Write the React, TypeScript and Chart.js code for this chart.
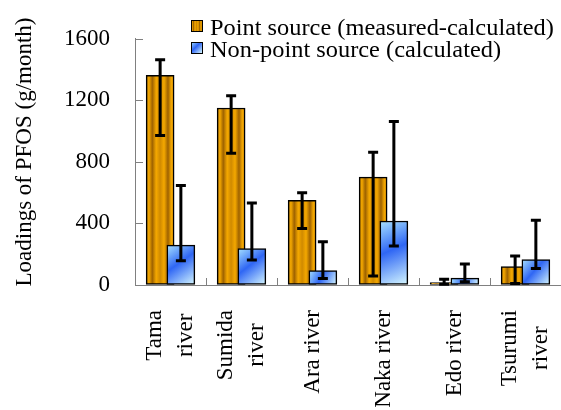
import { useEffect, useRef } from "react";
import { Chart, registerables } from "chart.js";

Chart.register(...registerables);

const categories: string[][] = [
  ["Tama", "river"],
  ["Sumida", "river"],
  ["Ara river"],
  ["Naka river"],
  ["Edo river"],
  ["Tsurumi", "river"],
];
const pointSource = [1362, 1150, 550, 701, 15, 119];
const pointLow = [972, 857, 367, 58, 5, 10];
const pointHigh = [1464, 1230, 600, 863, 38, 188];
const nonPointSource = [259, 237, 93, 416, 45, 166];
const nonPointLow = [157, 162, 43, 254, 21, 108];
const nonPointHigh = [647, 533, 281, 1062, 136, 421];
const yTicks = [0, 400, 800, 1200, 1600];
const seriesNames = ["Point source (measured-calculated)", "Non-point source (calculated)"];
const yTitle = "Loadings of PFOS (g/month)";

const FONT = "'Liberation Serif', 'Times New Roman', serif";
const FONT_SIZE = 23;
const BAR_SHIFT = 0.146; // fraction of a category
const AXIS_GRAY = "#808080";

function orangeFill(ctx: CanvasRenderingContext2D, left: number, right: number) {
  const g = ctx.createLinearGradient(left, 0, right, 0);
  const light = "#F4A800";
  const dark = "#9E6200";
  g.addColorStop(0, "#C98400");
  g.addColorStop(0.1, light);
  g.addColorStop(0.22, dark);
  g.addColorStop(0.36, light);
  g.addColorStop(0.5, "#D08A00");
  g.addColorStop(0.64, light);
  g.addColorStop(0.78, dark);
  g.addColorStop(0.9, light);
  g.addColorStop(1, "#C98400");
  return g;
}

function blueFill(ctx: CanvasRenderingContext2D, left: number, top: number, right: number, bottom: number) {
  const g = ctx.createLinearGradient(left, top, right, bottom);
  g.addColorStop(0, "#A8E2FF");
  g.addColorStop(0.45, "#2F66F4");
  g.addColorStop(1, "#D6F8FF");
  return g;
}

const errorSets = [
  { low: pointLow, high: pointHigh },
  { low: nonPointLow, high: nonPointHigh },
];

const fillPlugin = {
  id: "barFills",
  beforeDatasetsDraw(chart: any) {
    const ctx = chart.ctx as CanvasRenderingContext2D;
    chart.data.datasets.forEach((_: any, d: number) => {
      const meta = chart.getDatasetMeta(d);
      meta.data.forEach((el: any) => {
        const left = el.x - el.width / 2;
        const right = el.x + el.width / 2;
        const top = Math.min(el.y, el.base);
        const bottom = Math.max(el.y, el.base);
        const bg = d === 0 ? orangeFill(ctx, left, right) : blueFill(ctx, left, top, right, bottom);
        el.options = { ...el.options, backgroundColor: bg };
      });
    });
  },
};

const decorPlugin = {
  id: "decor",
  afterDatasetsDraw(chart: any) {
    const ctx = chart.ctx as CanvasRenderingContext2D;
    const yScale = chart.scales.y;
    ctx.save();
    ctx.strokeStyle = "#000";
    ctx.lineWidth = 3;
    errorSets.forEach((set, d) => {
      const meta = chart.getDatasetMeta(d);
      meta.data.forEach((el: any, i: number) => {
        const x = el.x;
        const yh = yScale.getPixelForValue(set.high[i]);
        const yl = yScale.getPixelForValue(set.low[i]);
        ctx.beginPath();
        ctx.moveTo(x, yh);
        ctx.lineTo(x, yl);
        ctx.moveTo(x - 5, yh);
        ctx.lineTo(x + 5, yh);
        ctx.moveTo(x - 5, yl);
        ctx.lineTo(x + 5, yl);
        ctx.stroke();
      });
    });
    ctx.restore();
  },
  afterDraw(chart: any) {
    const ctx = chart.ctx as CanvasRenderingContext2D;
    const xScale = chart.scales.x;
    const yScale = chart.scales.y;
    const area = chart.chartArea;
    const font = `${FONT_SIZE}px ${FONT}`;
    ctx.save();
    ctx.strokeStyle = AXIS_GRAY;
    ctx.lineWidth = 1;
    ctx.beginPath();
    for (let i = 1; i < categories.length; i++) {
      const x = Math.round(xScale.getPixelForValue(i)) + 0.5;
      ctx.moveTo(x, area.bottom);
      ctx.lineTo(x, area.bottom - 7);
    }
    yTicks.forEach((v) => {
      if (v === 0) return;
      const y = Math.round(yScale.getPixelForValue(v)) + 0.5;
      ctx.moveTo(area.left, y);
      ctx.lineTo(area.left + 8, y);
    });
    ctx.stroke();

    ctx.fillStyle = "#000";
    ctx.font = font;
    ctx.textAlign = "center";
    ctx.textBaseline = "middle";
    categories.forEach((lines, i) => {
      const cx = xScale.getPixelForValue(i + 0.5);
      const maxW = Math.max(...lines.map((l) => ctx.measureText(l).width));
      const cy = area.bottom + 25 + maxW / 2;
      ctx.save();
      ctx.translate(cx, cy);
      ctx.rotate(-Math.PI / 2);
      lines.forEach((line, j) => {
        const v = (j - (lines.length - 1) / 2) * 31;
        ctx.fillText(line, 0, v);
      });
      ctx.restore();
    });

    ctx.save();
    ctx.font = font;
    ctx.translate(25, 152);
    ctx.rotate(-Math.PI / 2);
    ctx.fillText(yTitle, 0, 0);
    ctx.restore();

    const boxX = 191;
    const boxS = 11;
    const rows = [20, 42];
    rows.forEach((by, k) => {
      ctx.fillStyle = k === 0 ? orangeFill(ctx, boxX, boxX + boxS) : blueFill(ctx, boxX, by, boxX + boxS, by + boxS);
      ctx.fillRect(boxX, by, boxS, boxS);
      ctx.strokeStyle = "#000";
      ctx.lineWidth = 1;
      ctx.strokeRect(boxX + 0.5, by + 0.5, boxS, boxS);
      ctx.save();
      ctx.font = font;
      ctx.fillStyle = "#000";
      ctx.textAlign = "left";
      ctx.textBaseline = "alphabetic";
      ctx.translate(210, by + 15);
      ctx.scale(1.06, 1);
      ctx.fillText(seriesNames[k], 0, 0);
      ctx.restore();
    });
    ctx.restore();
  },
};

export default function App() {
  const ref = useRef<HTMLCanvasElement>(null);
  useEffect(() => {
    const canvas = ref.current;
    if (!canvas) return;
    Chart.defaults.font.family = FONT;
    const chart = new Chart(canvas, {
      type: "bar",
      data: {
        datasets: [
          {
            label: seriesNames[0],
            data: pointSource.map((v, i) => ({ x: i + 0.5 - BAR_SHIFT, y: v })),
            backgroundColor: "#F2A600",
            borderColor: "#000",
            borderWidth: 1.5,
            borderSkipped: false,
            barThickness: 28,
            grouped: false,
            order: 1,
          },
          {
            label: seriesNames[1],
            data: nonPointSource.map((v, i) => ({ x: i + 0.5 + BAR_SHIFT, y: v })),
            backgroundColor: "#2F66F4",
            borderColor: "#000",
            borderWidth: 1.5,
            borderSkipped: false,
            barThickness: 28,
            grouped: false,
            order: 0,
          },
        ],
      },
      options: {
        responsive: false,
        animation: false,
        devicePixelRatio: 1,
        events: [],
        layout: { padding: { top: 38, left: 0, right: 0, bottom: 0 } },
        plugins: {
          legend: { display: false },
          tooltip: { enabled: false },
          title: { display: false },
        },
        scales: {
          x: {
            type: "linear",
            min: 0,
            max: categories.length,
            offset: false,
            ticks: { display: false },
            grid: { display: true, drawOnChartArea: false, drawTicks: false },
            border: { display: true, color: AXIS_GRAY, width: 1 },
            afterFit: (s: any) => {
              s.height = 125;
            },
          },
          y: {
            type: "linear",
            min: 0,
            max: 1600,
            afterBuildTicks: (s: any) => {
              s.ticks = yTicks.map((v) => ({ value: v }));
            },
            ticks: {
              color: "#000",
              padding: 25,
              font: { family: FONT, size: FONT_SIZE },
              callback: (v: any) => String(v),
            },
            grid: { display: true, drawOnChartArea: false, drawTicks: false },
            border: { display: true, color: AXIS_GRAY, width: 1 },
            afterFit: (s: any) => {
              s.width = 135;
            },
          },
        },
      },
      plugins: [fillPlugin, decorPlugin],
    } as any);
    return () => chart.destroy();
  }, []);
  return (
    <div style={{ position: "fixed", left: 0, top: 0, width: 561, height: 410, background: "#fff" }}>
      <canvas ref={ref} width={561} height={410} style={{ width: 561, height: 410, display: "block" }} />
    </div>
  );
}
